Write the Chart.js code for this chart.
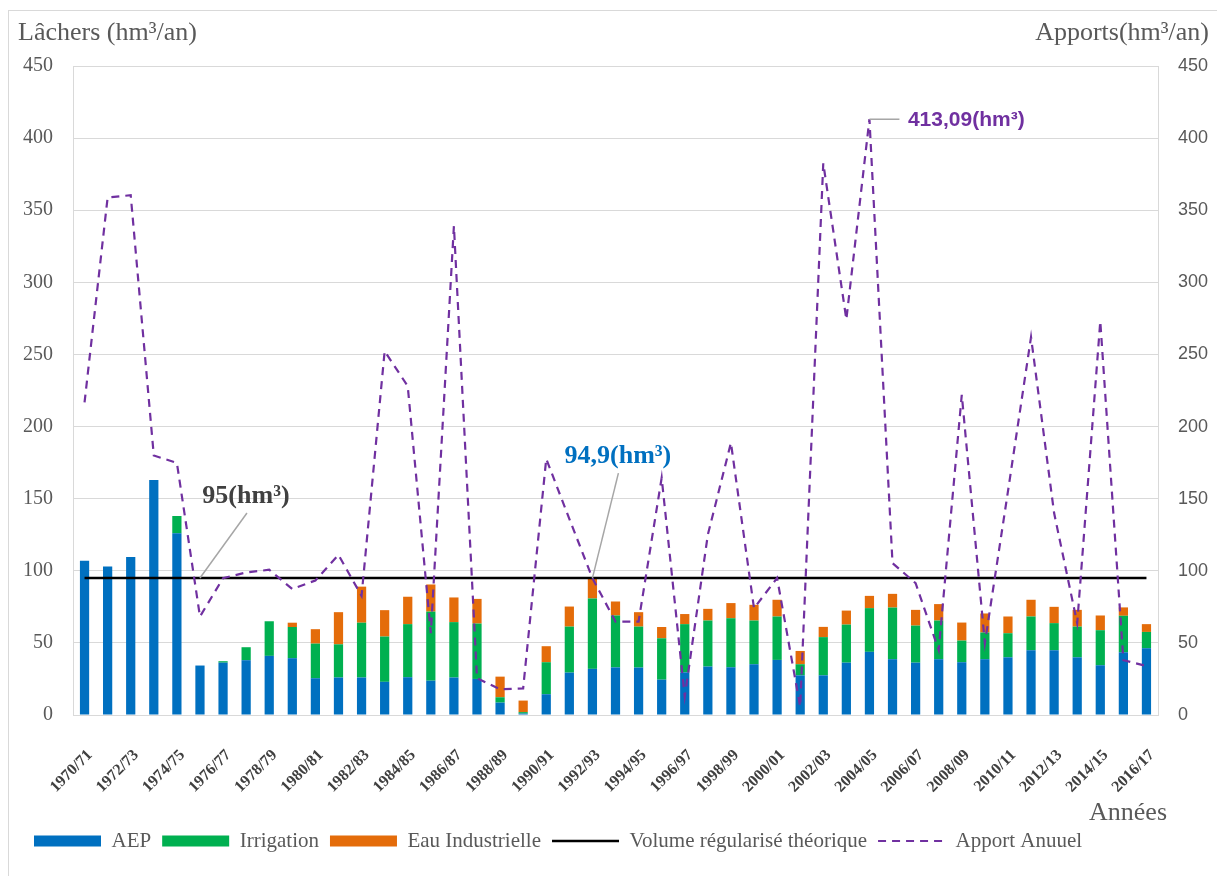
<!DOCTYPE html>
<html><head><meta charset="utf-8">
<script src="https://cdn.jsdelivr.net/npm/chart.js@4.4.1/dist/chart.umd.min.js"></script>
<style>
html,body{margin:0;padding:0;background:#fff;}
#wrap{position:relative;width:1217px;height:876px;overflow:hidden;background:#fff;}
#frame{position:absolute;left:8px;top:10px;width:1230px;height:890px;border:1px solid #d9d9d9;box-sizing:border-box;}
canvas{position:absolute;left:0;top:0;}
</style></head><body>
<div id="wrap"><div id="frame"></div><canvas id="c" width="1217" height="876"></canvas></div>
<script>
const categories = ['1970/71','1971/72','1972/73','1973/74','1974/75','1975/76','1976/77','1977/78','1978/79','1979/80',
  '1980/81','1981/82','1982/83','1983/84','1984/85','1985/86','1986/87','1987/88','1988/89','1989/90',
  '1990/91','1991/92','1992/93','1993/94','1994/95','1995/96','1996/97','1997/98','1998/99','1999/00',
  '2000/01','2001/02','2002/03','2003/04','2004/05','2005/06','2006/07','2007/08','2008/09','2009/10',
  '2010/11','2011/12','2012/13','2013/14','2014/15','2015/16','2016/17'];

const aep = [107, 103, 109.5, 163, 126, 34.3, 36.3, 38, 41, 39.4,
  25.5, 26, 26, 23, 26.2, 23.8, 26, 25, 8.6, 1,
  14.4, 29.4, 32, 33, 32.9, 24.5, 29.6, 33.6, 33.1, 35.2,
  38.2, 27.5, 27.5, 36.3, 43.8, 38.7, 36.3, 38.7, 36.6, 38.7,
  40, 44.9, 44.9, 40, 34.5, 43.5, 46.3];

const irrigation = [0, 0, 0, 0, 12, 0, 1, 9, 24, 21.6,
  24, 23, 38, 31.4, 36.8, 47.9, 38.4, 38.4, 3.7, 1,
  22.2, 31.9, 48.8, 36, 28.4, 28.7, 33.4, 31.9, 34, 30.3,
  30.1, 7.7, 26.5, 26.4, 30.3, 35.8, 25.7, 26.8, 15, 18.5,
  16.7, 23.4, 18.8, 21.3, 24.3, 25.3, 11.3];

const eauIndustrielle = [0, 0, 0, 0, 0, 0, 0, 0, 0, 3,
  10, 22.3, 25, 18.3, 19, 18.8, 17.1, 17.1, 14.3, 8,
  11.1, 13.9, 14.1, 9.7, 10, 7.8, 7, 8.1, 10.5, 10.9,
  11.6, 9.2, 7.1, 9.7, 8.5, 9.5, 10.9, 11.4, 12.5, 13.2,
  11.6, 11.6, 11.3, 11.6, 10.2, 5.8, 5.4];

const volumeRegularise = [95, 95, 95, 95, 95, 95, 95, 95, 95, 95,
  95, 95, 95, 95, 95, 95, 95, 95, 95, 95,
  95, 95, 95, 95, 95, 95, 95, 95, 95, 95,
  95, 95, 95, 95, 95, 95, 95, 95, 95, 95,
  95, 95, 95, 95, 95, 95, 95];

const apportAnnuel = [216.7, 358.8, 360.4, 179.9, 174.8, 68.3, 94.9, 98.8, 100.7, 87.3,
  93.3, 111, 82.6, 252.3, 228, 56.7, 339, 25.5, 17.8, 18.5,
  177.6, 136, 94.9, 64.8, 64.8, 164.4, 12.7, 125, 188.7, 74,
  95, 5.8, 382.6, 274.3, 413.09, 105.3, 91.4, 45, 222, 49.8,
  155, 262, 140, 63.6, 273, 38, 34];

const yTicks = [0, 50, 100, 150, 200, 250, 300, 350, 400, 450];

// annotation texts linked to data points (category index, value, axis)
const notes = [
  {index: 5, value: 95, axis: 'y', text: '95(hm³)'},
  {index: 22, value: 94.9, axis: 'y', text: '94,9(hm³)'},
  {index: 34, value: 413.09, axis: 'y1', text: '413,09(hm³)'}
];

const GRID = '#d9d9d9';
const TXT = '#595959';

const overlay = {
  id: 'overlay',
  afterDatasetsDraw(chart) {
    const {ctx, scales} = chart;
    const pts = notes.map(n => ({x: scales.x.getPixelForValue(n.index), y: scales[n.axis].getPixelForValue(n.value), n}));
    ctx.save();
    ctx.strokeStyle = '#a6a6a6';
    ctx.lineWidth = 1.5;
    let p = pts[0];
    ctx.beginPath(); ctx.moveTo(p.x, p.y); ctx.lineTo(p.x + 47, p.y - 65); ctx.stroke();
    ctx.font = 'bold 26px "Liberation Serif"'; ctx.fillStyle = '#404040'; ctx.textAlign = 'center'; ctx.textBaseline = 'alphabetic';
    ctx.fillText(p.n.text, p.x + 46, p.y - 75);
    p = pts[1];
    ctx.beginPath(); ctx.moveTo(p.x, p.y); ctx.lineTo(p.x + 26, p.y - 105); ctx.stroke();
    ctx.fillStyle = '#0070C0';
    ctx.fillText(p.n.text, p.x + 25.5, p.y - 115.5);
    p = pts[2];
    ctx.beginPath(); ctx.moveTo(p.x, p.y); ctx.lineTo(p.x + 30, p.y); ctx.stroke();
    ctx.font = 'bold 21px "Liberation Sans"'; ctx.fillStyle = '#7030A0'; ctx.textAlign = 'left'; ctx.textBaseline = 'middle';
    ctx.fillText(p.n.text, p.x + 38.5, p.y + 1);
    ctx.restore();
  },
  afterDraw(chart) {
    const {ctx, chartArea} = chart;
    ctx.save();
    ctx.fillStyle = TXT;
    ctx.font = '26px "Liberation Serif"';
    ctx.textBaseline = 'alphabetic';
    ctx.textAlign = 'left';
    ctx.fillText('Lâchers (hm³/an)', chartArea.left - 55, chartArea.top - 26);
    ctx.textAlign = 'right';
    ctx.fillText('Apports(hm³/an)', chartArea.right + 51, chartArea.top - 26);
    ctx.fillText('Années', chartArea.right + 9, chartArea.bottom + 105);
    ctx.restore();
  }
};

new Chart(document.getElementById('c'), {
  data: {
    labels: categories,
    datasets: [
      {type: 'bar', label: 'AEP', data: aep, backgroundColor: '#0070C0', stack: 's', yAxisID: 'y', order: 1, barPercentage: 0.4, categoryPercentage: 1},
      {type: 'bar', label: 'Irrigation', data: irrigation, backgroundColor: '#00B050', stack: 's', yAxisID: 'y', order: 1, barPercentage: 0.4, categoryPercentage: 1},
      {type: 'bar', label: 'Eau Industrielle', data: eauIndustrielle, backgroundColor: '#E46C0A', stack: 's', yAxisID: 'y', order: 1, barPercentage: 0.4, categoryPercentage: 1},
      {type: 'line', label: 'Volume régularisé théorique', data: volumeRegularise, borderColor: '#000000', backgroundColor: '#000000', borderWidth: 2.5, pointRadius: 0, tension: 0, yAxisID: 'y', stack: 'v', order: 0},
      {type: 'line', label: 'Apport Anuuel', data: apportAnnuel, borderColor: '#7030A0', backgroundColor: '#7030A0', borderWidth: 2.2, borderDash: [8, 6], pointRadius: 0, tension: 0, yAxisID: 'y1', order: -1}
    ]
  },
  options: {
    responsive: false,
    animation: false,
    devicePixelRatio: 1,
    layout: {padding: {top: 66, left: 23, right: 0, bottom: 14.5}},
    scales: {
      x: {
        stacked: true,
        grid: {display: false},
        border: {display: true, color: GRID, width: 1},
        ticks: {
          autoSkip: false, maxRotation: 45, minRotation: 45, padding: 23, labelOffset: 5.5,
          color: '#404040', font: {family: 'Liberation Serif', size: 16, weight: 'bold'},
          callback: (v, i) => (i % 2 === 0 ? categories[i] : '')
        },
        afterFit: s => { s.height = 104.5; }
      },
      y: {
        stacked: true, position: 'left', min: 0, max: 450,
        grid: {color: GRID, lineWidth: 1, drawTicks: false},
        border: {display: true, color: GRID},
        afterBuildTicks: s => { s.ticks = yTicks.map(v => ({value: v})); },
        ticks: {padding: 20, color: TXT, font: {family: 'Liberation Serif', size: 20}},
        afterFit: s => { s.width = 50; }
      },
      y1: {
        position: 'right', min: 0, max: 450,
        grid: {display: false, drawTicks: false},
        border: {display: true, color: GRID},
        afterBuildTicks: s => { s.ticks = yTicks.map(v => ({value: v})); },
        ticks: {padding: 20, color: TXT, font: {family: 'Liberation Sans', size: 18}},
        afterFit: s => { s.width = 59; }
      }
    },
    plugins: {
      tooltip: {enabled: false},
      legend: {
        position: 'bottom', align: 'start',
        labels: {
          usePointStyle: true, pointStyleWidth: 67, boxHeight: 11, padding: 11,
          color: TXT, font: {family: 'Liberation Serif', size: 21},
          sort: (a, b) => a.datasetIndex - b.datasetIndex,
          generateLabels(chart) {
            const items = Chart.defaults.plugins.legend.labels.generateLabels(chart);
            return items.map(it => {
              const ds = chart.data.datasets[it.datasetIndex];
              if (ds.type === 'line') {
                it.pointStyle = 'line'; it.lineWidth = ds.borderWidth; it.strokeStyle = ds.borderColor; it.lineDash = ds.borderDash || [];
              } else {
                it.pointStyle = 'rect'; it.lineWidth = 0; it.fillStyle = ds.backgroundColor;
              }
              return it;
            });
          }
        }
      }
    }
  },
  plugins: [overlay]
});
</script>
</body></html>
